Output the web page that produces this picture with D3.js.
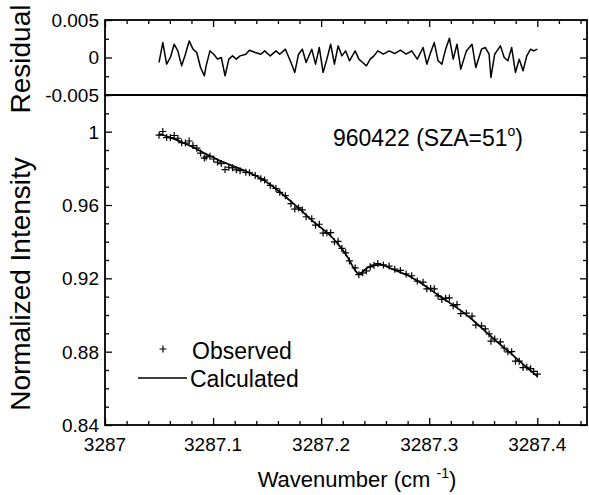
<!DOCTYPE html>
<html>
<head>
<meta charset="utf-8">
<script src="https://cdn.jsdelivr.net/npm/d3@7"></script>
<style>
  body { margin: 0; background: #fff; }
  svg { display: block; }
  text { font-family: "Liberation Sans", Arial, sans-serif; fill: #000; }
</style>
</head>
<body>
<svg id="chart" width="589" height="495"></svg>
<script>
// ---------------- DATA ----------------
const xDomain = [3287, 3287.446];
const xTickLabels = ["3287", "3287.1", "3287.2", "3287.3", "3287.4"];
const xTickValues = [3287, 3287.1, 3287.2, 3287.3, 3287.4];
const mainTickValues = [0.84, 0.88, 0.92, 0.96, 1.0];
const mainTickLabels = ["0.84", "0.88", "0.92", "0.96", "1"];
const resTickValues = [-0.005, 0, 0.005];
const resTickLabels = ["-0.005", "0", "0.005"];

// Observed spectrum (crosses) and residual share the same sampling
const obsWn = [3287.0500,3287.0535,3287.0570,3287.0605,3287.0640,3287.0674,3287.0709,3287.0744,3287.0779,3287.0814,
  3287.0849,3287.0884,3287.0919,3287.0936,3287.0971,3287.1006,3287.1041,3287.1076,3287.1111,3287.1146,
  3287.1180,3287.1215,3287.1250,3287.1303,3287.1337,3287.1390,3287.1442,3287.1477,3287.1529,3287.1582,
  3287.1617,3287.1669,3287.1721,3287.1756,3287.1791,3287.1826,3287.1861,3287.1913,3287.1948,3287.1983,
  3287.2018,3287.2053,3287.2088,3287.2123,3287.2157,3287.2192,3287.2227,3287.2262,3287.2315,3287.2349,
  3287.2384,3287.2419,3287.2454,3287.2489,3287.2524,3287.2576,3287.2629,3287.2681,3287.2733,3287.2786,
  3287.2838,3287.2890,3287.2943,3287.2978,3287.3013,3287.3047,3287.3082,3287.3117,3287.3152,3287.3187,
  3287.3222,3287.3257,3287.3292,3287.3344,3287.3396,3287.3431,3287.3484,3287.3519,3287.3554,3287.3571,
  3287.3606,3287.3659,3287.3694,3287.3728,3287.3763,3287.3798,3287.3833,3287.3868,3287.3903,3287.3938,
  3287.3966,3287.4001];
const obsVal = [0.9981,1.0001,0.9968,0.9968,0.9979,0.9964,0.9940,0.9938,0.9949,0.9924,
  0.9910,0.9883,0.9856,0.9862,0.9866,0.9851,0.9834,0.9826,0.9793,0.9806,
  0.9803,0.9792,0.9787,0.9778,0.9776,0.9761,0.9743,0.9736,0.9707,0.9690,
  0.9669,0.9651,0.9607,0.9578,0.9584,0.9573,0.9536,0.9525,0.9490,0.9495,
  0.9447,0.9448,0.9449,0.9399,0.9402,0.9363,0.9339,0.9295,0.9257,0.9220,
  0.9230,0.9241,0.9263,0.9272,0.9281,0.9273,0.9267,0.9250,0.9243,0.9224,
  0.9214,0.9185,0.9179,0.9143,0.9145,0.9143,0.9104,0.9085,0.9092,0.9093,
  0.9051,0.9057,0.9008,0.9010,0.8994,0.8945,0.8941,0.8924,0.8897,0.8857,
  0.8869,0.8853,0.8820,0.8799,0.8800,0.8748,0.8748,0.8713,0.8715,0.8707,
  0.8692,0.8677];
const resVal = [-0.00066,0.00199,-0.00089,0,0.00177,0.00088,-0.00111,0.00044,0.00221,0.00111,
  0.00066,-0.00133,-0.00243,-0.00111,0.00088,0.00044,-0.00022,0,-0.00243,-0.00022,
  0.00022,-0.00022,0.00022,0.00044,0.00097,0.00066,0.00044,0.00088,0.00022,0.00088,
  0.00044,0.00111,-0.00066,-0.00199,0.00044,0.00111,-0.00066,0.00111,-0.00089,0.00133,
  -0.00199,-0.00022,0.00177,-0.00089,0.00155,0.00022,0.00088,-0.00044,0.00088,-0.00022,
  -0.00066,-0.00111,-0.00022,0.00022,0.00088,0.00044,0.00088,0.00053,0.00097,0.00044,
  0.00088,-0.00022,0.00133,-0.00089,0.00066,0.00199,-0.00044,-0.00089,0.00111,0.00257,
  -0.00022,0.00177,-0.00155,0.00088,0.00177,-0.00133,0.00111,0.00133,0.00044,-0.00266,
  0.00044,0.00155,0,-0.00044,0.00133,-0.00199,-0.00022,-0.00177,0.00022,0.00111,
  0.00088,0.00111];

// Calculated spectrum (solid line)
const calcWn = [3287.050,3287.055,3287.060,3287.065,3287.070,3287.075,3287.080,3287.085,3287.090,3287.095,
  3287.100,3287.105,3287.110,3287.115,3287.120,3287.125,3287.130,3287.135,3287.140,3287.145,
  3287.150,3287.155,3287.160,3287.165,3287.170,3287.175,3287.180,3287.185,3287.190,3287.195,
  3287.200,3287.205,3287.210,3287.215,3287.220,3287.225,3287.230,3287.235,3287.240,3287.245,
  3287.250,3287.255,3287.260,3287.265,3287.270,3287.275,3287.280,3287.285,3287.290,3287.295,
  3287.300,3287.305,3287.310,3287.315,3287.320,3287.325,3287.330,3287.335,3287.340,3287.345,
  3287.350,3287.355,3287.360,3287.365,3287.370,3287.375,3287.380,3287.385,3287.390,3287.395,
  3287.400];
const calcVal = [0.9988,0.9979,0.9969,0.9958,0.9946,0.9933,0.9919,0.9904,0.9889,0.9874,
  0.9860,0.9846,0.9833,0.9821,0.9809,0.9797,0.9785,0.9772,0.9758,0.9742,
  0.9723,0.9702,0.9679,0.9655,0.9630,0.9605,0.9580,0.9552,0.9524,0.9498,
  0.9475,0.9452,0.9424,0.9391,0.9355,0.9310,0.9258,0.9222,0.9245,0.9264,
  0.9272,0.9273,0.9265,0.9252,0.9240,0.9229,0.9217,0.9201,0.9183,0.9164,
  0.9143,0.9122,0.9101,0.9082,0.9062,0.9042,0.9021,0.8998,0.8974,0.8948,
  0.8921,0.8895,0.8868,0.8842,0.8817,0.8793,0.8767,0.8741,0.8715,0.8690,
  0.8666];

const seriesNames = ["Observed", "Calculated"];

// ---------------- LAYOUT ----------------
const L = 105, R = 587;
const resTop = 20, resBot = 95, mainTop = 95, mainBot = 425;

const svg = d3.select("#chart");
const x = d3.scaleLinear().domain(xDomain).range([L, R]);
const yRes = d3.scaleLinear().domain([-0.005, 0.005]).range([resBot, resTop]);
const yMain = d3.scaleLinear().domain([0.84, 1.02]).range([mainBot, mainTop]);

const xMinor = d3.range(0, 23).map(i => 3287 + i * 0.02).filter(v => v <= xDomain[1] + 1e-9);
const isMajorX = v => Math.abs(v * 10 - Math.round(v * 10)) < 1e-6;

function tickAxis(g, axisGen) { g.call(axisGen); g.select(".domain").remove(); g.selectAll("line").attr("stroke", "#000").attr("stroke-width", 1.3); }

// ---- Residual panel ----
const res = svg.append("g");
res.append("g").attr("transform", `translate(${L},0)`)
  .call(g => tickAxis(g, d3.axisRight(yRes).tickValues(resTickValues).tickSize(7).tickFormat("")));
res.append("g").attr("transform", `translate(${L},0)`)
  .call(g => tickAxis(g, d3.axisRight(yRes).tickValues([-0.0025, 0.0025]).tickSize(4).tickFormat("")));
res.append("g").attr("transform", `translate(${R},0)`)
  .call(g => tickAxis(g, d3.axisLeft(yRes).tickValues(resTickValues).tickSize(7).tickFormat("")));
res.append("g").attr("transform", `translate(${R},0)`)
  .call(g => tickAxis(g, d3.axisLeft(yRes).tickValues([-0.0025, 0.0025]).tickSize(4).tickFormat("")));
res.append("g").attr("transform", `translate(0,${resTop})`)
  .call(g => tickAxis(g, d3.axisBottom(x).tickValues(xTickValues).tickSize(7).tickFormat("")));
res.append("g").attr("transform", `translate(0,${resTop})`)
  .call(g => tickAxis(g, d3.axisBottom(x).tickValues(xMinor.filter(v => !isMajorX(v))).tickSize(4).tickFormat("")));
res.selectAll("text.rl").data(resTickValues).join("text")
  .attr("x", L - 6).attr("y", d => yRes(d)).attr("dy", "0.36em")
  .attr("text-anchor", "end").attr("font-size", 19)
  .text((d, i) => resTickLabels[i]);
res.append("path")
  .datum(obsWn.map((w, i) => [w, resVal[i]]))
  .attr("fill", "none").attr("stroke", "#000").attr("stroke-width", 1.5).attr("stroke-linejoin", "round")
  .attr("d", d3.line().x(d => x(d[0])).y(d => yRes(d[1])));
res.append("rect").attr("x", L).attr("y", resTop).attr("width", R - L).attr("height", resBot - resTop)
  .attr("fill", "none").attr("stroke", "#000").attr("stroke-width", 1.8);

// ---- Main panel ----
const main = svg.append("g");
const mainMinor = d3.range(0, 19).map(i => 0.84 + i * 0.01).filter(v => !mainTickValues.some(t => Math.abs(t - v) < 1e-6));
main.append("g").attr("transform", `translate(${L},0)`)
  .call(g => tickAxis(g, d3.axisRight(yMain).tickValues(mainTickValues).tickSize(7).tickFormat("")));
main.append("g").attr("transform", `translate(${L},0)`)
  .call(g => tickAxis(g, d3.axisRight(yMain).tickValues(mainMinor).tickSize(4).tickFormat("")));
main.append("g").attr("transform", `translate(${R},0)`)
  .call(g => tickAxis(g, d3.axisLeft(yMain).tickValues(mainTickValues).tickSize(7).tickFormat("")));
main.append("g").attr("transform", `translate(${R},0)`)
  .call(g => tickAxis(g, d3.axisLeft(yMain).tickValues(mainMinor).tickSize(4).tickFormat("")));
main.append("g").attr("transform", `translate(0,${mainBot})`)
  .call(g => tickAxis(g, d3.axisTop(x).tickValues(xTickValues).tickSize(7).tickFormat("")));
main.append("g").attr("transform", `translate(0,${mainBot})`)
  .call(g => tickAxis(g, d3.axisTop(x).tickValues(xMinor.filter(v => !isMajorX(v))).tickSize(4).tickFormat("")));

main.selectAll("text.ml").data(mainTickValues).join("text")
  .attr("x", L - 6).attr("y", d => yMain(d)).attr("dy", "0.36em")
  .attr("text-anchor", "end").attr("font-size", 19)
  .text((d, i) => mainTickLabels[i]);
main.selectAll("text.xl").data(xTickValues).join("text")
  .attr("x", d => x(d)).attr("y", mainBot + 26)
  .attr("text-anchor", "middle").attr("font-size", 19)
  .text((d, i) => xTickLabels[i]);

main.append("path")
  .datum(calcWn.map((w, i) => [w, calcVal[i]]))
  .attr("fill", "none").attr("stroke", "#000").attr("stroke-width", 1.7)
  .attr("d", d3.line().curve(d3.curveMonotoneX).x(d => x(d[0])).y(d => yMain(d[1])));
const cs = 3.5;
main.append("g").selectAll("path").data(obsWn.map((w, i) => [w, obsVal[i]])).join("path")
  .attr("transform", d => `translate(${x(d[0])},${yMain(d[1])})`)
  .attr("d", `M${-cs},0H${cs}M0,${-cs}V${cs}`)
  .attr("stroke", "#000").attr("stroke-width", 1.2).attr("fill", "none");

main.append("rect").attr("x", L).attr("y", mainTop).attr("width", R - L).attr("height", mainBot - mainTop)
  .attr("fill", "none").attr("stroke", "#000").attr("stroke-width", 1.8);

// annotation
const ann = main.append("text").attr("x", 333).attr("y", 146).attr("font-size", 23);
ann.append("tspan").text("960422 (SZA=51");
ann.append("tspan").attr("dy", -10).attr("font-size", 14).text("o");
ann.append("tspan").attr("dy", 10).text(")");

// legend
const leg = main.append("g");
leg.append("path").attr("d", `M${163 - cs},349H${163 + cs}M163,${349 - cs}V${349 + cs}`)
  .attr("stroke", "#000").attr("stroke-width", 1.2);
leg.append("text").attr("x", 192).attr("y", 359).attr("font-size", 23).text(seriesNames[0]);
leg.append("line").attr("x1", 138).attr("x2", 187).attr("y1", 378).attr("y2", 378)
  .attr("stroke", "#000").attr("stroke-width", 1.7);
leg.append("text").attr("x", 190).attr("y", 387).attr("font-size", 23).text(seriesNames[1]);

// axis titles
const xt = svg.append("text").attr("x", 357).attr("y", 487).attr("text-anchor", "middle").attr("font-size", 22);
xt.append("tspan").text("Wavenumber (cm ");
xt.append("tspan").attr("dy", -9).attr("font-size", 14).text("-1");
xt.append("tspan").attr("dy", 9).text(")");

svg.append("text").attr("transform", "translate(30,284) rotate(-90)")
  .attr("text-anchor", "middle").attr("font-size", 28).text("Normalized Intensity");
svg.append("text").attr("transform", "translate(30,59) rotate(-90)")
  .attr("text-anchor", "middle").attr("font-size", 28).text("Residual");
</script>
</body>
</html>
